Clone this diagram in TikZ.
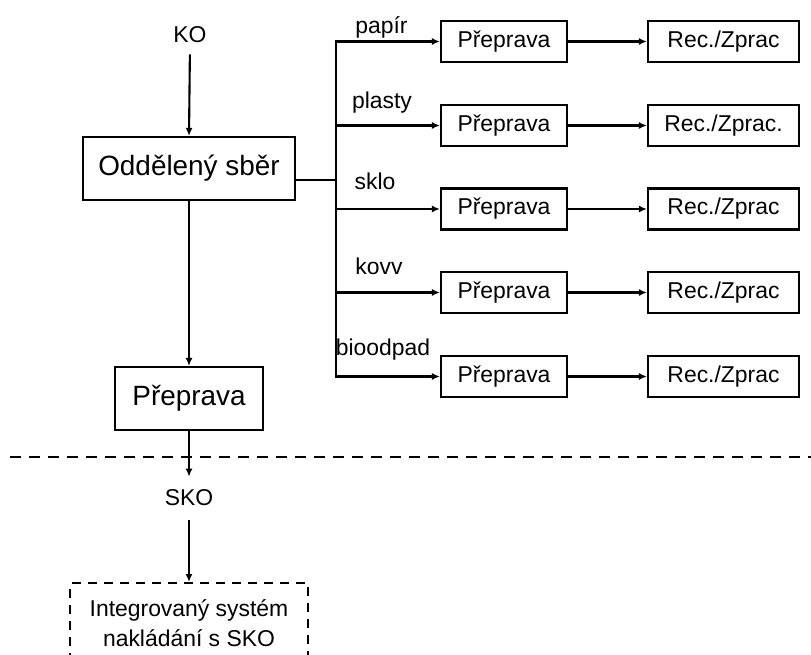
\documentclass[tikz,border=0pt]{standalone}
\usepackage{fontspec}
\setmainfont{Liberation Sans}
\usetikzlibrary{arrows.meta}
\begin{document}
\begin{tikzpicture}[x=1bp,y=-1bp,
  lw/.style={line width=2.1bp},
  bigbox/.style={draw, lw, inner sep=0, font=\fontsize{28}{32}\selectfont},
  smallbox/.style={draw, lw, inner sep=0, minimum height=41bp, font=\fontsize{23}{27}\selectfont},
  lbl/.style={inner sep=0, font=\fontsize{23}{27}\selectfont},
  arr/.style={lw, -{Latex[length=8bp,width=7bp]}},
  dashline/.style={lw, dash pattern=on 11bp off 8bp}
]
\clip (0,0) rectangle (811,655);
\useasboundingbox (0,0) rectangle (811,655);

% left column
\node[lbl] (ko) at (190,35) {KO};
\node[bigbox, minimum width=212bp, minimum height=63bp] (os) at (189,168.5) {Oddělený sběr};
\node[bigbox, minimum width=148bp, minimum height=63bp] (pp) at (189,398.5) {Přeprava};
\node[lbl] (sko) at (189,498) {SKO};
\node[draw, line width=2bp, dash pattern=on 9bp off 7bp, inner sep=0,
      minimum width=237bp, minimum height=80bp, align=center,
      font=\fontsize{23}{30}\selectfont] (isys) at (189,623)
      {Integrovaný systém\\nakládání s SKO};

\draw[arr, shorten <=11bp] (ko.south) -- (os.north);
\draw[arr] (os.south) -- (pp.north);
\draw[arr, shorten >=13bp] (pp.south) -- (sko.north);
\draw[arr, shorten <=14bp] (sko.south) -- (isys.north);

% separator
\coordinate (dl) at (10,457);
\coordinate (dr) at (815,457);
\draw[dashline] (dl) -- (dr);

% right side
\node[smallbox, minimum width=126bp] (p1) at (504,41.5) {Přeprava};
\node[smallbox, minimum width=126bp] (p2) at (504,125.5) {Přeprava};
\node[smallbox, minimum width=126bp] (p3) at (504,209) {Přeprava};
\node[smallbox, minimum width=126bp] (p4) at (504,292.5) {Přeprava};
\node[smallbox, minimum width=126bp] (p5) at (504,376.5) {Přeprava};

\node[smallbox, minimum width=151bp] (r1) at (723.5,41.5) {Rec./Zprac};
\node[smallbox, minimum width=151bp] (r2) at (723.5,125.5) {Rec./Zprac.};
\node[smallbox, minimum width=151bp] (r3) at (723.5,209) {Rec./Zprac};
\node[smallbox, minimum width=151bp] (r4) at (723.5,292.5) {Rec./Zprac};
\node[smallbox, minimum width=151bp] (r5) at (723.5,376.5) {Rec./Zprac};

\node[lbl] (l1) at (381.5,27) {papír};
\node[lbl] (l2) at (382,103) {plasty};
\node[lbl] (l3) at (375,181) {sklo};
\node[lbl] (l4) at (379,266) {kovv};
\node[lbl] (l5) at (383,350) {bioodpad};

\coordinate (s1) at (336,41.5);
\coordinate (s2) at (336,125.5);
\coordinate (s3) at (336,209);
\coordinate (s4) at (336,292.5);
\coordinate (s5) at (336,376.5);
\coordinate (sj) at (336,180);

\draw[lw] (os.east |- sj) -- (sj);
\draw[lw, line cap=rect] (s1) -- (s5);
\foreach \i in {1,...,5}{
  \draw[arr] (s\i) -- (p\i.west);
  \draw[arr] (p\i.east) -- (r\i.west);
}
\end{tikzpicture}
\end{document}
